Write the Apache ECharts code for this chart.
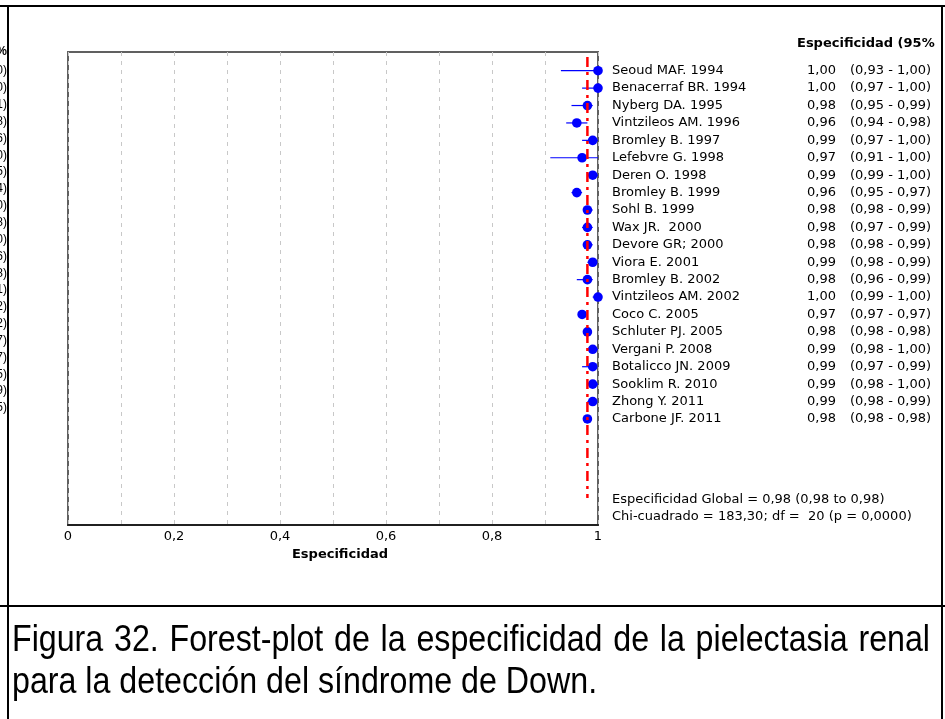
<!DOCTYPE html>
<html>
<head>
<meta charset="utf-8">
<script src="https://cdn.jsdelivr.net/npm/echarts@6/dist/echarts.min.js"></script>
<style>
  html, body { margin: 0; padding: 0; background: #ffffff; }
  #chart { width: 945px; height: 719px; }
</style>
</head>
<body>
<div id="chart"></div>
<script>
// Studies included in the specificity meta-analysis
const studies = [
  'Seoud MAF. 1994', 'Benacerraf BR. 1994', 'Nyberg DA. 1995', 'Vintzileos AM. 1996',
  'Bromley B. 1997', 'Lefebvre G. 1998', 'Deren O. 1998', 'Bromley B. 1999',
  'Sohl B. 1999', 'Wax JR.  2000', 'Devore GR; 2000', 'Viora E. 2001',
  'Bromley B. 2002', 'Vintzileos AM. 2002', 'Coco C. 2005', 'Schluter PJ. 2005',
  'Vergani P. 2008', 'Botalicco JN. 2009', 'Sooklim R. 2010', 'Zhong Y. 2011',
  'Carbone JF. 2011'
];
// Point estimates and 95% confidence limits
const specificity = [1.00, 1.00, 0.98, 0.96, 0.99, 0.97, 0.99, 0.96, 0.98, 0.98, 0.98, 0.99, 0.98, 1.00, 0.97, 0.98, 0.99, 0.99, 0.99, 0.99, 0.98];
const ciLow       = [0.93, 0.97, 0.95, 0.94, 0.97, 0.91, 0.99, 0.95, 0.98, 0.97, 0.98, 0.98, 0.96, 0.99, 0.97, 0.98, 0.98, 0.97, 0.98, 0.98, 0.98];
const ciHigh      = [1.00, 1.00, 0.99, 0.98, 1.00, 1.00, 1.00, 0.97, 0.99, 0.99, 0.99, 0.99, 0.99, 1.00, 0.97, 0.98, 1.00, 0.99, 1.00, 0.99, 0.98];
// Pooled estimate
const pooled = 0.98;
const pooledLow = 0.98;
const pooledHigh = 0.98;
const chiSquare = '183,30';
const degreesFreedom = 20;
const pValue = '0,0000';
// X axis tick labels (every 0.2)
const xTickLabels = ['0', '0,2', '0,4', '0,6', '0,8', '1'];
// Tail of the neighbouring table column (cut off at the cell border)
const neighbourTails = ['0)', '0)', '1)', '8)', '6)', '0)', '5)', '4)', '0)', '8)', '0)', '6)', '8)', '1)', '2)', '2)', '7)', '7)', '5)', '9)', '5)'];
// Figure caption (first line justified to the cell width)
const captionLines = [
  'Figura 32. Forest-plot de la especificidad de la pielectasia renal',
  'para la detección del síndrome de Down.'
];

const FONT = '"DejaVu Sans", "Liberation Sans", sans-serif';
const CAPTION_FONT = '32.2px "Liberation Sans", Arial, sans-serif';
const TXT = '13px ' + FONT;
const fmt = v => v.toFixed(2).replace('.', ',');

const chart = echarts.init(document.getElementById('chart'), null, { renderer: 'canvas' });

const rows = studies.map((s, i) => [i, specificity[i], ciLow[i], ciHigh[i]]);

const graphics = [
  // table cell borders
  { type: 'line', shape: { x1: 0, y1: 6, x2: 945, y2: 6 }, style: { stroke: '#000', lineWidth: 2 } },
  { type: 'line', shape: { x1: 8, y1: 6, x2: 8, y2: 719 }, style: { stroke: '#000', lineWidth: 2 } },
  { type: 'line', shape: { x1: 942, y1: 6, x2: 942, y2: 719 }, style: { stroke: '#000', lineWidth: 2 } },
  { type: 'line', shape: { x1: 0, y1: 606, x2: 945, y2: 606 }, style: { stroke: '#000', lineWidth: 2 } },
  // neighbouring column fragments
  { type: 'text', x: 7, y: 52, style: { text: '%', font: 'bold 12px "Liberation Sans", sans-serif', fill: '#000', align: 'right', verticalAlign: 'middle' } }
];
neighbourTails.forEach((t, i) => {
  graphics.push({ type: 'text', x: 7, y: 71 + i * 16.85, style: { text: t, font: '12px "Liberation Sans", sans-serif', fill: '#000', align: 'right', verticalAlign: 'middle' } });
});

// caption: first line justified between the cell margins, second line left aligned
const measureCtx = document.createElement('canvas').getContext('2d');
measureCtx.font = CAPTION_FONT;
(function () {
  const left = 12, right = 930, y1 = 641, y2 = 683;
  const words = captionLines[0].split(' ');
  const widths = words.map(w => measureCtx.measureText(w).width);
  const total = widths.reduce((a, b) => a + b, 0);
  const gap = (right - left - total) / (words.length - 1);
  let x = left;
  words.forEach((w, k) => {
    graphics.push({ type: 'text', x: x, y: y1, scaleY: 1.12, style: { text: w, font: CAPTION_FONT, fill: '#000', verticalAlign: 'middle' } });
    x += widths[k] + gap;
  });
  graphics.push({ type: 'text', x: left, y: y2, scaleY: 1.12, style: { text: captionLines[1], font: CAPTION_FONT, fill: '#000', verticalAlign: 'middle' } });
})();

// column header and summary text
graphics.push(
  { type: 'text', x: 797, y: 44, style: { text: 'Especificidad (95%', font: 'bold 13px ' + FONT, fill: '#000', verticalAlign: 'middle' } },
  { type: 'text', x: 612, y: 500, style: { text: 'Especificidad Global = ' + fmt(pooled) + ' (' + fmt(pooledLow) + ' to ' + fmt(pooledHigh) + ')', font: TXT, fill: '#000', verticalAlign: 'middle' } },
  { type: 'text', x: 612, y: 517, style: { text: 'Chi-cuadrado = ' + chiSquare + '; df =  ' + degreesFreedom + ' (p = ' + pValue + ')', font: TXT, fill: '#000', verticalAlign: 'middle' } }
);

const option = {
  animation: false,
  backgroundColor: '#ffffff',
  grid: { left: 68, top: 52, width: 530, height: 473, show: true, borderColor: '#606060', borderWidth: 2, backgroundColor: 'transparent' },
  xAxis: {
    type: 'value', min: 0, max: 1, interval: 0.1,
    axisLine: { show: true, onZero: false, lineStyle: { color: '#202020', width: 2 } },
    axisTick: { show: false },
    axisLabel: {
      color: '#000', fontFamily: FONT, fontSize: 13, margin: 5,
      formatter: v => {
        const k = Math.round(v * 10);
        return k % 2 === 0 ? xTickLabels[k / 2] : '';
      }
    },
    splitLine: { show: true, lineStyle: { color: '#c8c8c8', width: 1, type: [4, 5] } },
    name: 'Especificidad', nameLocation: 'middle', nameGap: 22,
    nameTextStyle: { color: '#000', fontFamily: FONT, fontSize: 13, fontWeight: 'bold', padding: [0, 0, 0, 14] }
  },
  yAxis: {
    type: 'value', inverse: true, min: -1.074, max: 26.09,
    show: false, splitLine: { show: false }
  },
  series: [
    {
      type: 'custom', clip: false, z: 3,
      data: rows,
      encode: { x: 1, y: 0 },
      renderItem: function (params, api) {
        const i = api.value(0);
        const est = api.value(1), lo = api.value(2), hi = api.value(3);
        const p = api.coord([est, i]);
        const pl = api.coord([lo, i]);
        const ph = api.coord([hi, i]);
        const right = api.coord([1, i])[0];
        return {
          type: 'group',
          children: [
            { type: 'line', shape: { x1: pl[0], y1: p[1], x2: ph[0], y2: p[1] }, style: { stroke: '#0000ff', lineWidth: 1.2 } },
            { type: 'circle', shape: { cx: p[0], cy: p[1], r: 4.8 }, style: { fill: '#0000ff' } },
            { type: 'text', x: right + 14, y: p[1], style: { text: studies[i], font: TXT, fill: '#000', verticalAlign: 'middle' } },
            { type: 'text', x: right + 238, y: p[1], style: { text: fmt(est), font: TXT, fill: '#000', align: 'right', verticalAlign: 'middle' } },
            { type: 'text', x: right + 333, y: p[1], style: { text: '(' + fmt(lo) + ' - ' + fmt(hi) + ')', font: TXT, fill: '#000', align: 'right', verticalAlign: 'middle' } }
          ]
        };
      }
    },
    {
      // pooled estimate reference line, drawn above the study markers
      type: 'line', symbol: 'none', silent: true, z: 5,
      data: [[pooled, -0.79], [pooled, studies.length + 3.54]],
      lineStyle: { color: '#ff0000', width: 2.5, type: [10, 5, 3, 5] }
    }
  ],
  graphic: graphics
};

chart.setOption(option);
</script>
</body>
</html>
